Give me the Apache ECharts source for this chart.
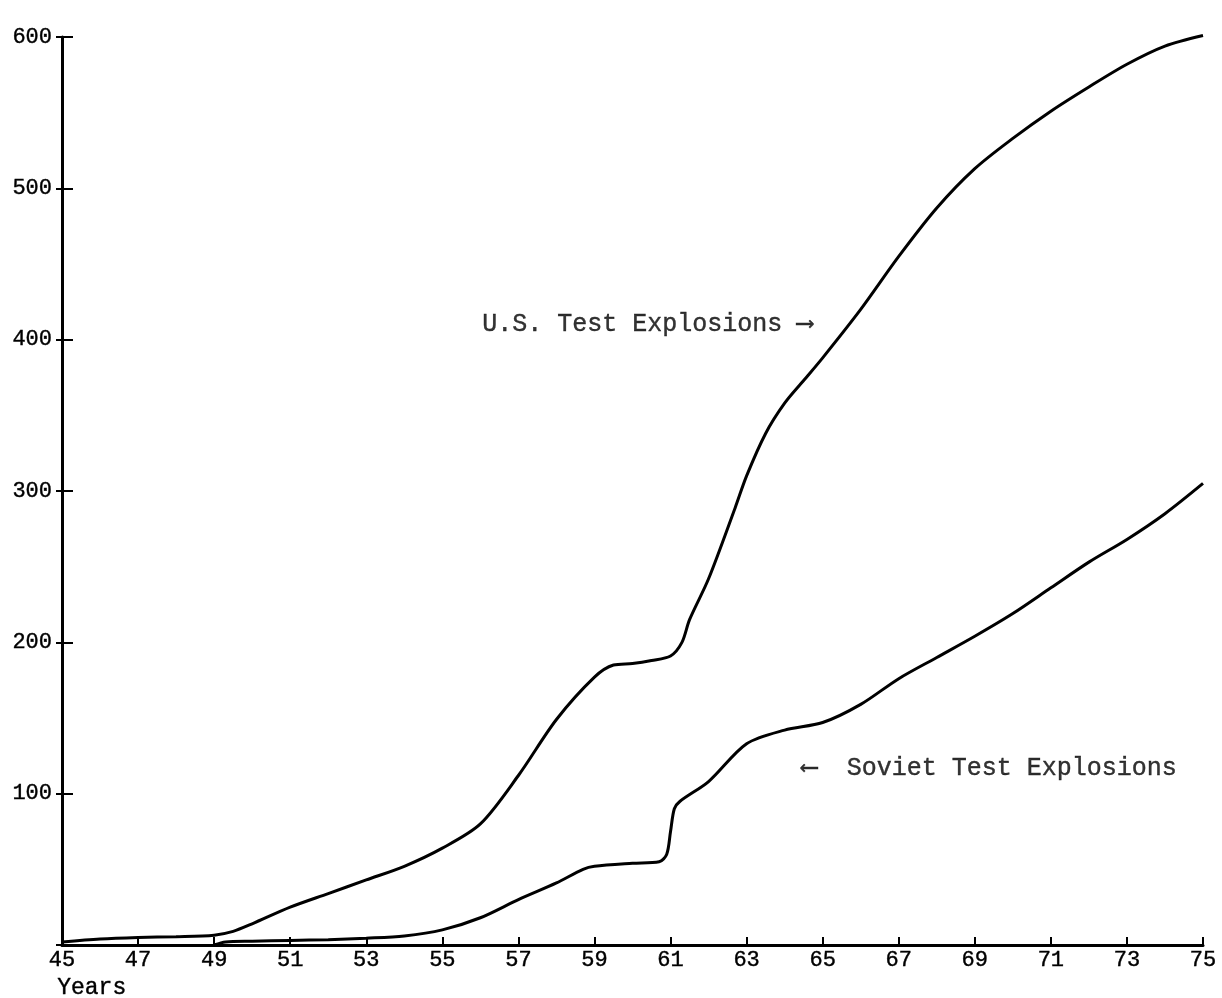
<!DOCTYPE html>
<html>
<head>
<meta charset="utf-8">
<script src="https://cdn.jsdelivr.net/npm/echarts@6/dist/echarts.min.js"></script>
<style>
html,body{margin:0;padding:0;background:#fff;}
#chart{width:1222px;height:998px;}
</style>
</head>
<body>
<div id="chart"></div>
<script>
// ---- data (years as on the axis, cumulative number of test explosions) ----
const usYears = [45, 46, 47, 48, 49, 49.5, 50, 51, 52, 53, 54, 55, 56, 57, 58, 59, 59.5, 60, 60.5, 61, 61.3, 61.5, 62, 62.7, 63, 63.5, 64, 64.5, 65, 66, 67, 68, 69, 70, 71, 72, 73, 74, 75];
const usValues = [2, 4, 5, 5.5, 6.5, 9, 14, 25, 34, 43, 52, 64, 80, 112, 149, 177, 185, 186, 188, 191, 200, 215, 242, 289, 310, 338, 358, 373, 388, 420, 455, 487, 513, 533, 551, 567, 582, 594, 601];

const sovietYears = [49, 49.3, 50, 51, 52, 53, 54, 55, 56, 57, 58, 58.7, 59, 60, 60.7, 60.9, 61.0, 61.1, 61.25, 62, 63, 64, 65, 66, 67, 68, 69, 70, 71, 72, 73, 74, 75];
const sovietValues = [0, 2, 2.5, 3, 3.5, 4.5, 6, 10, 18, 30, 41, 50, 52, 54, 55, 60, 75, 90, 95, 108, 133, 142, 147, 159, 176, 190, 204, 219, 236, 253, 268, 285, 305];

const xTickYears = [45, 47, 49, 51, 53, 55, 57, 59, 61, 63, 65, 67, 69, 71, 73, 75];
const yTickValues = [100, 200, 300, 400, 500, 600];

const annotationText = ['U.S. Test Explosions \u27F6', '\u27F5  Soviet Test Explosions'];
const annotationYear = [56.05, 64.45];
const annotationValue = [410, 117];

const axisXLabel = 'Years';

// ---- build chart ----
const BASE = 45; // axis counted from 0 so ticks fall on odd years
const toPairs = (xs, ys) => xs.map((x, i) => [x - BASE, ys[i]]);
const FONT = "'Liberation Mono', 'DejaVu Sans Mono', monospace";

const chart = echarts.init(document.getElementById('chart'), null, {renderer: 'canvas'});
chart.setOption({
  animation: false,
  backgroundColor: '#ffffff',
  grid: {left: 62, right: 19, top: 37, bottom: 53, containLabel: false},
  xAxis: {
    type: 'value', min: 0, max: 30, interval: 2,
    axisLine: {show: true, lineStyle: {color: '#000', width: 3}},
    axisTick: {show: true, inside: true, length: 8, lineStyle: {color: '#000', width: 2}},
    splitLine: {show: false},
    axisLabel: {
      color: '#000', fontFamily: FONT, fontSize: 22, margin: 4,
      textBorderColor: '#000', textBorderWidth: 0.4,
      formatter: v => (xTickYears.indexOf(v + BASE) >= 0 ? String(v + BASE) : '')
    }
  },
  yAxis: [{
    type: 'value', min: 0, max: 600, interval: 100,
    axisLine: {show: true, lineStyle: {color: '#000', width: 3}},
    axisTick: {show: true, inside: true, length: 11, lineStyle: {color: '#000', width: 2}},
    splitLine: {show: false},
    axisLabel: {
      color: '#000', fontFamily: FONT, fontSize: 22, margin: 10,
      textBorderColor: '#000', textBorderWidth: 0.4,
      formatter: v => (yTickValues.indexOf(v) >= 0 ? String(v) : '')
    }
  }, {
    type: 'value', min: 0, max: 600, interval: 100, position: 'left',
    axisLine: {show: false},
    axisTick: {show: true, inside: false, length: 6, lineStyle: {color: '#000', width: 2}},
    axisLabel: {show: false},
    splitLine: {show: false}
  }],
  series: [{
    name: 'U.S. Test Explosions', type: 'line',
    data: toPairs(usYears, usValues),
    smooth: 0.3, showSymbol: false, clip: false,
    lineStyle: {color: '#000', width: 3}
  }, {
    name: 'Soviet Test Explosions', type: 'line',
    data: toPairs(sovietYears, sovietValues),
    smooth: 0.3, showSymbol: false, clip: false,
    lineStyle: {color: '#000', width: 3}
  }, {
    name: 'annotations', type: 'scatter', symbolSize: 0, silent: true,
    data: annotationText.map((t, i) => ({value: [annotationYear[i] - BASE, annotationValue[i]], name: t})),
    label: {
      show: true, position: 'right', distance: 0, color: '#000',
      fontFamily: FONT, fontSize: 25,
      textBorderColor: '#000', textBorderWidth: 0.4,
      formatter: p => p.name
    }
  }],
  graphic: [{
    type: 'text', left: 57, top: 976,
    style: {text: axisXLabel, fill: '#000', stroke: '#000', lineWidth: 0.4,
            font: "23px 'Liberation Mono', 'DejaVu Sans Mono', monospace"}
  }]
});
</script>
</body>
</html>
